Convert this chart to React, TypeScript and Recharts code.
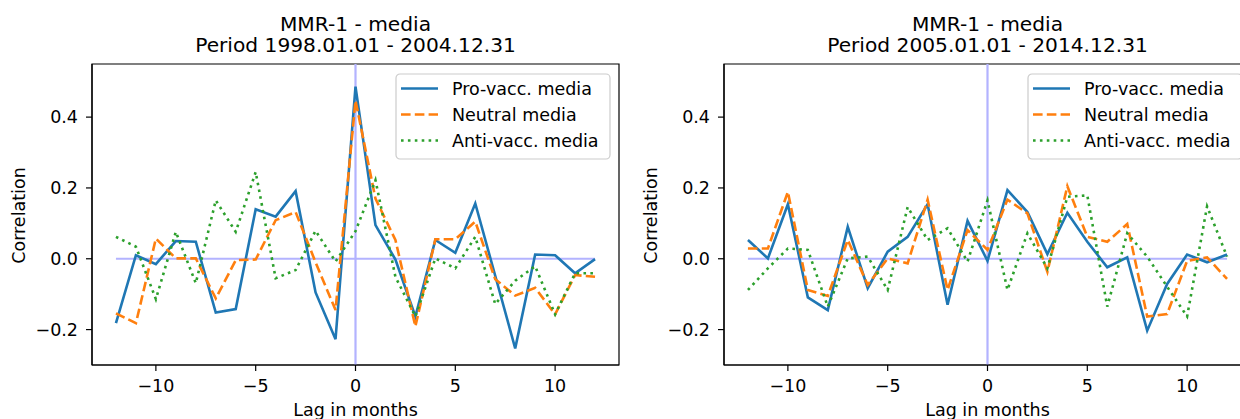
import React from 'react';
import { LineChart, Line, XAxis, YAxis, ReferenceLine, ReferenceArea } from 'recharts';

const lags: number[] = [-12, -11, -10, -9, -8, -7, -6, -5, -4, -3, -2, -1, 0, 1, 2, 3, 4, 5, 6, 7, 8, 9, 10, 11, 12];

const leftPro: number[] = [-0.182, 0.010, -0.015, 0.050, 0.048, -0.152, -0.142, 0.140, 0.119, 0.191, -0.095, -0.227, 0.486, 0.095, -0.002, -0.163, 0.053, 0.017, 0.156, -0.048, -0.253, 0.012, 0.010, -0.041, -0.001];
const leftNeutral: number[] = [-0.154, -0.182, 0.057, 0.001, 0.001, -0.112, -0.004, -0.002, 0.109, 0.132, -0.010, -0.145, 0.447, 0.170, 0.053, -0.191, 0.055, 0.055, 0.105, -0.058, -0.104, -0.082, -0.157, -0.046, -0.051];
const leftAnti: number[] = [0.062, 0.034, -0.114, 0.076, -0.069, 0.165, 0.076, 0.245, -0.055, -0.032, 0.079, -0.008, 0.078, 0.222, -0.051, -0.163, 0.001, -0.027, 0.062, -0.128, -0.062, -0.021, -0.157, -0.041, -0.041];

const rightPro: number[] = [0.053, 0.001, 0.154, -0.109, -0.145, 0.090, -0.083, 0.020, 0.062, 0.154, -0.130, 0.107, -0.006, 0.194, 0.132, 0.013, 0.130, 0.048, -0.024, 0.004, -0.203, -0.071, 0.012, -0.010, 0.012];
const rightNeutral: number[] = [0.029, 0.029, 0.189, -0.088, -0.105, 0.053, -0.074, 0.001, -0.013, 0.167, -0.088, 0.081, 0.025, 0.167, 0.128, -0.037, 0.205, 0.062, 0.048, 0.098, -0.163, -0.156, -0.006, 0.004, -0.057];
const rightAnti: number[] = [-0.088, -0.027, 0.029, 0.025, -0.135, 0.001, 0.006, -0.088, 0.146, 0.053, 0.086, -0.008, 0.165, -0.088, 0.072, -0.027, 0.175, 0.179, -0.135, 0.072, 0.006, -0.079, -0.163, 0.148, 0.006];

const xTicks: number[] = [-10, -5, 0, 5, 10];
const yTicks: number[] = [-0.2, 0.0, 0.2, 0.4];
const seriesNames: string[] = ['Pro-vacc. media', 'Neutral media', 'Anti-vacc. media'];
const leftTitle: string[] = ['MMR-1 - media', 'Period 1998.01.01 - 2004.12.31'];
const rightTitle: string[] = ['MMR-1 - media', 'Period 2005.01.01 - 2014.12.31'];

const COLORS = ['#1f77b4', '#ff7f0e', '#2ca02c'];
const DASHES = [undefined, '9.6 4.2', '2.6 4.3'];
const FONT = '"DejaVu Sans", Verdana, sans-serif';
const REF = '#b3b3ff';

const fmt = (v: number, d: number) => (v < 0 ? '\u2212' + Math.abs(v).toFixed(d) : v.toFixed(d));

function Panel({ pro, neutral, anti, title, left }: { pro: number[]; neutral: number[]; anti: number[]; title: string[]; left: number }) {
  const data = lags.map((lag, i) => ({ lag, pro: pro[i], neutral: neutral[i], anti: anti[i] }));
  const keys = ['pro', 'neutral', 'anti'];
  return (
    <div style={{ position: 'absolute', left, top: 0, width: 640, height: 419 }}>
      <LineChart width={640} height={419} data={data} margin={{ top: 64, right: 21, bottom: 0, left: 0 }}>
        <XAxis
          dataKey="lag"
          type="number"
          domain={[-13.2, 13.2]}
          ticks={xTicks}
          allowDataOverflow
          height={54}
          tickSize={6}
          tickMargin={8.5}
          tickFormatter={(v: number) => fmt(v, 0)}
          tick={{ fill: '#000', fontSize: 17.5, fontFamily: FONT }}
          tickLine={{ stroke: '#000', strokeWidth: 1.2 }}
          axisLine={{ stroke: '#000', strokeWidth: 1.2 }}
        />
        <YAxis
          type="number"
          domain={[-0.3, 0.55]}
          ticks={yTicks}
          allowDataOverflow
          width={92}
          tickSize={6}
          tickMargin={8}
          tickFormatter={(v: number) => fmt(v, 1)}
          tick={{ fill: '#000', fontSize: 17.5, fontFamily: FONT }}
          tickLine={{ stroke: '#000', strokeWidth: 1.2 }}
          axisLine={{ stroke: '#000', strokeWidth: 1.2 }}
        />
        <ReferenceArea x1={-13.2} x2={13.2} y1={-0.3} y2={0.55} fill="none" fillOpacity={0} stroke="#000" strokeWidth={1.2} />
        <ReferenceLine segment={[{ x: -12, y: 0 }, { x: 12, y: 0 }]} stroke={REF} strokeWidth={2.2} />
        <ReferenceLine x={0} stroke={REF} strokeWidth={2.2} />
        {keys.map((k, i) => (
          <Line
            key={k}
            dataKey={k}
            type="linear"
            stroke={COLORS[i]}
            strokeWidth={2.6}
            strokeDasharray={DASHES[i]}
            dot={false}
            activeDot={false}
            isAnimationActive={false}
          />
        ))}
      </LineChart>
      <svg width={640} height={419} style={{ position: 'absolute', left: 0, top: 0, pointerEvents: 'none' }}>
        <text x={355.5} y={30.5} textAnchor="middle" fontSize={20.2} fontFamily={FONT} fill="#000">{title[0]}</text>
        <text x={355.5} y={52} textAnchor="middle" fontSize={20.2} fontFamily={FONT} fill="#000">{title[1]}</text>
        <text x={355.5} y={416} textAnchor="middle" fontSize={17.5} fontFamily={FONT} fill="#000">Lag in months</text>
        <text x={25} y={215.5} textAnchor="middle" fontSize={17.5} fontFamily={FONT} fill="#000" transform="rotate(-90 25 215.5)">Correlation</text>
        <g transform="translate(396 74)">
          <rect x={0} y={0} width={214} height={85} rx={4} ry={4} fill="#fff" fillOpacity={0.8} stroke="#cccccc" strokeWidth={1.2} />
          {seriesNames.map((n, i) => (
            <g key={n}>
              <line x1={5} x2={42} y1={14.5 + 26 * i} y2={14.5 + 26 * i} stroke={COLORS[i]} strokeWidth={2.6} strokeDasharray={DASHES[i]} />
              <text x={56} y={21 + 26 * i} fontSize={17.5} fontFamily={FONT} fill="#000">{n}</text>
            </g>
          ))}
        </g>
      </svg>
    </div>
  );
}

export default function App() {
  return (
    <div style={{ position: 'absolute', left: 0, top: 0, width: 1240, height: 419, overflow: 'hidden', background: '#fff' }}>
      <Panel pro={leftPro} neutral={leftNeutral} anti={leftAnti} title={leftTitle} left={0} />
      <Panel pro={rightPro} neutral={rightNeutral} anti={rightAnti} title={rightTitle} left={632} />
    </div>
  );
}
